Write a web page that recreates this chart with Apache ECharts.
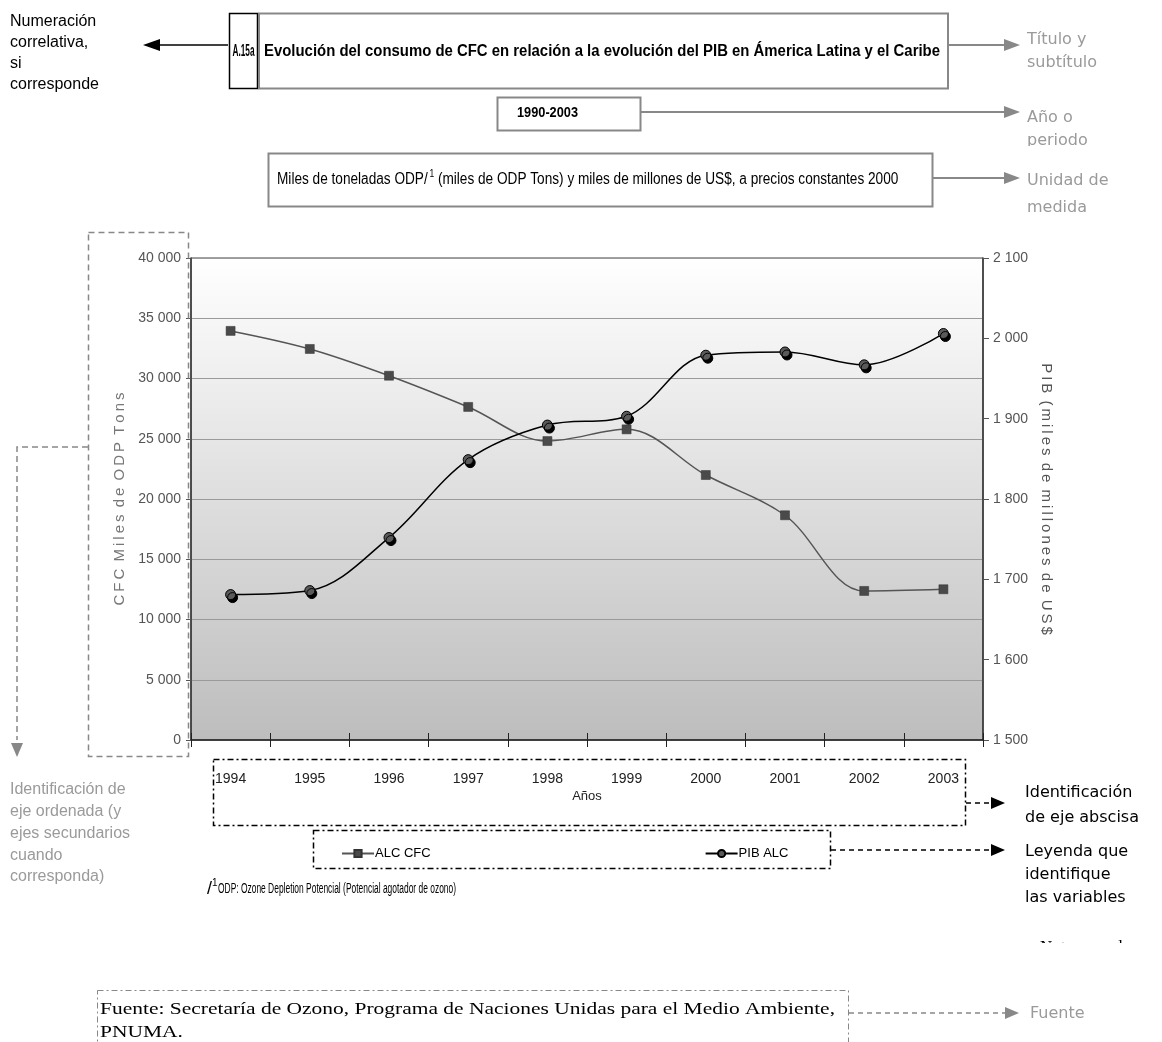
<!DOCTYPE html>
<html>
<head>
<meta charset="utf-8">
<title>Evolución del consumo de CFC</title>
<script src="https://cdn.jsdelivr.net/npm/echarts@6/dist/echarts.min.js"></script>
<style>
  html, body { margin: 0; padding: 0; background: #fff; }
  #chart { width: 1162px; height: 1042px; }
</style>
</head>
<body>
<div id="chart"></div>
<script>
// Años del periodo
const years = ['1994', '1995', '1996', '1997', '1998', '1999', '2000', '2001', '2002', '2003'];
// Consumo de CFC en América Latina y el Caribe (toneladas ODP)
const cfcALC = [33950, 32450, 30230, 27640, 24810, 25780, 21990, 18650, 12370, 12510];
// PIB de América Latina y el Caribe (miles de millones de US$ de 2000)
const pibALC = [1681, 1686, 1752, 1849, 1892, 1903, 1979, 1983, 1967, 2006];

const seriesNames = ['ALC CFC', 'PIB ALC'];
const leftAxisName = 'CFC Miles de ODP Tons';
const rightAxisName = 'PIB (miles de millones de US$';

const SANS = '"Liberation Sans", Arial, sans-serif';
const DEJAVU = '"DejaVu Sans", Verdana, sans-serif';
const SERIF = '"Liberation Serif", "Times New Roman", serif';

// espaciado fino entre letras para los títulos de eje
const THIN = '\u2009';
const spaced = s => s.split(' ').map(w => w.split('').join(THIN)).join(' ' + THIN);
const thousands = v => String(v).replace(/\B(?=(\d{3})+(?!\d))/g, ' ');

// medición de texto para comprimir horizontalmente (tipografía estrecha)
const measureCtx = document.createElement('canvas').getContext('2d');
function textWidth(text, font) { measureCtx.font = font; return measureCtx.measureText(text).width; }

const chart = echarts.init(document.getElementById('chart'), null, { renderer: 'canvas' });

function txt(x, y, text, font, fill, extra) {
  return { type: 'text', z: 100,
    style: Object.assign({ x, y, text, font, fill, textVerticalAlign: 'middle' }, extra || {}) };
}
// texto ajustado a un ancho dado (escala horizontal)
function fitTxt(x, y, text, font, fill, width, align) {
  const sx = width / textWidth(text, font);
  return { type: 'text', z: 100, x, y, scaleX: sx,
    style: { x: 0, y: 0, text, font, fill, textVerticalAlign: 'middle', textAlign: align || 'left' } };
}
function box(x, y, w, h, stroke, lw, dash) {
  return { type: 'rect', z: 100, shape: { x, y, width: w, height: h },
    style: { fill: null, stroke, lineWidth: lw, lineDash: dash || null } };
}
function line(points, stroke, lw, dash) {
  return { type: 'polyline', z: 100, shape: { points },
    style: { fill: null, stroke, lineWidth: lw, lineDash: dash || null } };
}
function tri(points, fill) {
  return { type: 'polygon', z: 100, shape: { points }, style: { fill } };
}
const DASHDOT = [6, 3, 2, 3];
const G = '#888';
const GT = '#9a9a9a';

// texto de unidad de medida con superíndice
const unitA = 'Miles de toneladas ODP/';
const unitB = ' (miles de ODP Tons) y miles de millones de US$, a precios constantes 2000';
const unitFont = '16px ' + SANS;
const unitScale = 620 / (textWidth(unitA + unitB, unitFont) + 6);

const noteText = 'ODP: Ozone Depletion Potencial (Potencial agotador de ozono)';
const noteFont = '14px ' + SANS;
const noteScale = 238 / textWidth(noteText, noteFont);

const srcFont = '17px ' + SERIF;
const srcLine1 = 'Fuente: Secretaría de Ozono, Programa de Naciones Unidas para el Medio Ambiente,';
const srcScale = 735 / textWidth(srcLine1, srcFont);

const graphics = [
  // numeración
  txt(10, 22, 'Numeración', '16px ' + SANS, '#000'),
  txt(10, 43, 'correlativa,', '16px ' + SANS, '#000'),
  txt(10, 64, 'si', '16px ' + SANS, '#000'),
  txt(10, 85, 'corresponde', '16px ' + SANS, '#000'),
  line([[228, 45], [158, 45]], '#000', 1.5),
  tri([[143, 45], [160, 39], [160, 51]], '#000'),
  box(229.5, 13.5, 28, 75, '#000', 1.5),
  fitTxt(243.5, 52, 'A.15a', 'bold 16px ' + SANS, '#000', 22, 'center'),
  // título
  box(259, 13.5, 689, 75, G, 2),
  fitTxt(264, 52, 'Evolución del consumo de CFC en relación a la evolución del PIB en Ámerica Latina y el Caribe',
      'bold 16px ' + SANS, '#000', 676),
  line([[949, 45], [1006, 45]], G, 2),
  tri([[1020, 45], [1004, 39], [1004, 51]], G),
  txt(1027, 40, 'Título y', '16px ' + DEJAVU, GT),
  txt(1027, 63, 'subtítulo', '16px ' + DEJAVU, GT),
  // periodo
  box(497.5, 97.5, 143, 33, G, 2),
  fitTxt(517, 113, '1990-2003', 'bold 15px ' + SANS, '#000', 61),
  line([[641, 112], [1006, 112]], G, 2),
  tri([[1020, 112], [1004, 106], [1004, 118]], G),
  txt(1027, 118, 'Año o', '16px ' + DEJAVU, GT),
  txt(1027, 141, 'periodo', '16px ' + DEJAVU, GT),
  { type: 'rect', z: 101, shape: { x: 1020, y: 146, width: 142, height: 18 }, style: { fill: '#fff' } },
  // unidad de medida
  box(268.5, 153.5, 664, 53, G, 2),
  {
    type: 'text', z: 100, x: 277, y: 180, scaleX: unitScale,
    style: {
      x: 0, y: 0, textVerticalAlign: 'middle',
      text: '{t|' + unitA + '}{s|1}{t|' + unitB + '}',
      rich: {
        t: { font: unitFont, fill: '#000' },
        s: { font: '10px ' + SANS, fill: '#000', padding: [0, 0, 11, 2] }
      }
    }
  },
  line([[933, 178], [1006, 178]], G, 2),
  tri([[1020, 178], [1004, 172], [1004, 184]], G),
  txt(1027, 181, 'Unidad de', '16px ' + DEJAVU, GT),
  txt(1027, 208, 'medida', '16px ' + DEJAVU, GT),
  // eje ordenado
  box(88.5, 232.5, 100, 524, G, 1.5, [6, 4]),
  line([[88, 447], [17, 447], [17, 740]], G, 1.5, [6, 4]),
  tri([[17, 757], [11, 743], [23, 743]], G),
  txt(10, 790, 'Identificación de', '16px ' + SANS, GT),
  txt(10, 812, 'eje ordenada (y', '16px ' + SANS, GT),
  txt(10, 834, 'ejes secundarios', '16px ' + SANS, GT),
  txt(10, 856, 'cuando', '16px ' + SANS, GT),
  txt(10, 877, 'corresponda)', '16px ' + SANS, GT),
  // eje abscisa
  box(213.5, 759.5, 752, 66, '#000', 1.5, DASHDOT),
  line([[966, 803], [992, 803]], '#000', 1.5, [5, 4]),
  tri([[1005, 803], [991, 797], [991, 809]], '#000'),
  txt(1025, 793, 'Identificación', '16px ' + DEJAVU, '#000'),
  txt(1025, 818, 'de eje abscisa', '16px ' + DEJAVU, '#000'),
  // leyenda
  box(313.5, 830.5, 517, 38, '#000', 1.5, DASHDOT),
  line([[831, 850], [992, 850]], '#000', 1.5, [5, 4]),
  tri([[1005, 850], [991, 844], [991, 856]], '#000'),
  txt(1025, 852, 'Leyenda que', '16px ' + DEJAVU, '#000'),
  txt(1025, 875, 'identifique', '16px ' + DEJAVU, '#000'),
  txt(1025, 898, 'las variables', '16px ' + DEJAVU, '#000'),
  // nota ODP
  txt(207, 889, '/', '18px ' + SANS, '#000'),
  txt(212, 883, '1', '10px ' + SANS, '#000'),
  {
    type: 'text', z: 100, x: 218, y: 889, scaleX: noteScale,
    style: { x: 0, y: 0, text: noteText, font: noteFont, fill: '#000', textVerticalAlign: 'middle' }
  },
  txt(1040, 948, 'Nota: cuando', '17px ' + SERIF, '#000'),
  { type: 'rect', z: 101, shape: { x: 1030, y: 943, width: 132, height: 22 }, style: { fill: '#fff' } },
  // fuente
  box(97.5, 990.5, 751, 56, G, 1, DASHDOT),
  {
    type: 'text', z: 100, x: 100, y: 1010, scaleX: srcScale,
    style: { x: 0, y: 0, text: srcLine1, font: srcFont, fill: '#000', textVerticalAlign: 'middle' }
  },
  {
    type: 'text', z: 100, x: 100, y: 1033, scaleX: srcScale,
    style: { x: 0, y: 0, text: 'PNUMA.', font: srcFont, fill: '#000', textVerticalAlign: 'middle' }
  },
  line([[849, 1013], [1006, 1013]], G, 1.5, [5, 4]),
  tri([[1019, 1013], [1005, 1007], [1005, 1019]], G),
  txt(1030, 1014, 'Fuente', '16px ' + DEJAVU, GT)
];

const option = {
  animation: false,
  backgroundColor: '#fff',
  grid: {
    left: 191, top: 258, width: 792, height: 482,
    show: true, borderColor: '#444', borderWidth: 1,
    backgroundColor: new echarts.graphic.LinearGradient(0, 0, 0, 1, [
      { offset: 0, color: '#ffffff' },
      { offset: 1, color: '#bdbdbd' }
    ])
  },
  legend: {
    data: seriesNames,
    left: 336, top: 842,
    itemGap: 274, itemWidth: 32, itemHeight: 9,
    textStyle: { fontFamily: SANS, fontSize: 13, color: '#000', padding: [0, 0, 0, -4] }
  },
  xAxis: [{
    type: 'category', data: years, boundaryGap: true, position: 'bottom',
    axisLine: { lineStyle: { color: '#222', width: 1.5 } },
    axisTick: { show: true, inside: false, length: 7, lineStyle: { color: '#222' } },
    axisLabel: { margin: 32, fontFamily: SANS, fontSize: 14, color: '#222' },
    name: 'Años', nameLocation: 'middle', nameGap: 50,
    nameTextStyle: { fontFamily: SANS, fontSize: 13, color: '#222' }
  }, {
    type: 'category', data: years, boundaryGap: true, position: 'bottom',
    axisLine: { show: false },
    axisTick: { show: true, inside: true, length: 7, lineStyle: { color: '#222' } },
    axisLabel: { show: false }
  }],
  yAxis: [{
    type: 'value', min: 0, max: 40000, interval: 5000, position: 'left',
    axisLine: { show: true, lineStyle: { color: '#333', width: 1.5 } },
    axisTick: { show: true, length: 5, lineStyle: { color: '#555' } },
    axisLabel: { margin: 10, fontFamily: SANS, fontSize: 14, color: '#555', formatter: thousands },
    splitLine: { show: true, lineStyle: { color: '#9a9a9a', width: 1 } },
    name: spaced(leftAxisName), nameLocation: 'middle', nameGap: 58, nameRotate: 90,
    nameTextStyle: { fontFamily: SANS, fontSize: 15, color: '#777' }
  }, {
    type: 'value', min: 1500, max: 2100, interval: 100, position: 'right',
    axisLine: { show: true, lineStyle: { color: '#333', width: 1.5 } },
    axisTick: { show: true, length: 6, lineStyle: { color: '#555' } },
    axisLabel: { margin: 10, fontFamily: SANS, fontSize: 14, color: '#555', formatter: thousands },
    splitLine: { show: false },
    name: spaced(rightAxisName), nameLocation: 'middle', nameGap: 51, nameRotate: -90,
    nameTextStyle: { fontFamily: SANS, fontSize: 15, color: '#555' }
  }],
  series: [{
    name: seriesNames[0], type: 'line', yAxisIndex: 0, xAxisIndex: 0,
    data: cfcALC, smooth: 0.35,
    symbol: 'rect', symbolSize: 9,
    lineStyle: { color: '#555', width: 1.5 },
    itemStyle: { color: '#4a4a4a', borderColor: '#333', borderWidth: 0.5 }
  }, {
    name: seriesNames[1], type: 'line', yAxisIndex: 1, xAxisIndex: 0,
    data: pibALC, smooth: 0.35,
    symbol: 'circle', symbolSize: 10,
    lineStyle: { color: '#000', width: 1.5 },
    itemStyle: { color: '#5a5a5a', borderColor: '#000', borderWidth: 1,
      shadowColor: '#000', shadowOffsetX: 2, shadowOffsetY: 3, shadowBlur: 0 }
  }],
  graphic: graphics
};

chart.setOption(option);
</script>
</body>
</html>
